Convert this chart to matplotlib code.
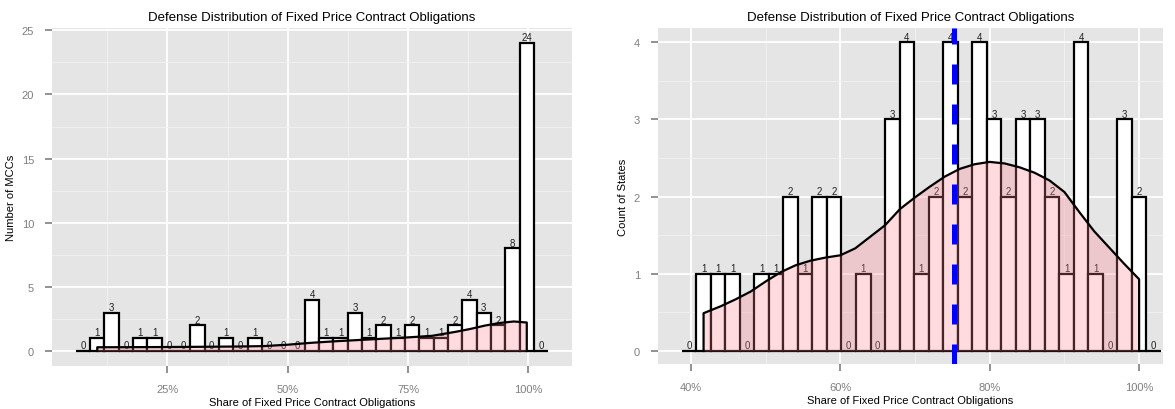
import numpy as np
import matplotlib
matplotlib.use("Agg")
import matplotlib.pyplot as plt
from matplotlib.ticker import FixedLocator, FuncFormatter

plt.rcParams['font.family'] = ['Liberation Sans', 'DejaVu Sans']

# Left chart: MCCs (bins run from min to max share, 30 steps, one empty bin padded each side)
mcc_lo, mcc_hi = 10.4, 99.7
mcc_counts = [0, 1, 3, 0, 1, 1, 0, 0, 2, 0, 1, 0, 1, 0, 0, 0, 4, 1, 1, 3,
              1, 2, 1, 2, 1, 1, 2, 4, 3, 2, 8, 24, 0]
mcc_dens_x = [10.4, 20, 30, 40, 45, 50, 55, 60, 65, 70, 75, 80, 85, 88, 91, 94, 97, 99.7]
mcc_dens_y = [0.29, 0.30, 0.32, 0.35, 0.38, 0.49, 0.64, 0.76, 0.86, 0.96, 1.06, 1.18,
              1.50, 1.72, 1.98, 2.18, 2.30, 2.22]

# Right chart: states
st_lo, st_hi = 41.7, 100.0
st_counts = [0, 1, 1, 1, 0, 1, 1, 2, 1, 2, 2, 0, 1, 0, 3, 4, 1, 2, 4, 2,
             4, 3, 2, 3, 3, 2, 1, 4, 1, 0, 3, 2, 0]
st_dens_x = [41.7, 44, 46, 48, 50, 52, 54, 56, 58, 60, 62, 64, 66, 68, 70, 72, 74, 76,
             78, 80, 82, 84, 86, 88, 90, 92, 94, 96, 98, 100]
st_dens_y = [0.49, 0.58, 0.67, 0.77, 0.90, 1.02, 1.11, 1.17, 1.21, 1.24, 1.33, 1.48,
             1.63, 1.84, 1.99, 2.13, 2.26, 2.36, 2.42, 2.45, 2.43, 2.38, 2.31, 2.21,
             2.06, 1.80, 1.55, 1.34, 1.13, 0.93]
st_mark = 75.2  # blue dashed reference line

title = "Defense Distribution of Fixed Price Contract Obligations"
xlabel = "Share of Fixed Price Contract Obligations"

fig = plt.figure(figsize=(11.75, 4.10), dpi=100)


def style_axes(ax, xmajor, xminor, ymajor, yminor, xlim, ylim):
    ax.set_facecolor('#E5E5E5')
    for s in ax.spines.values():
        s.set_visible(False)
    ax.set_xlim(*xlim)
    ax.set_ylim(*ylim)
    ax.xaxis.set_major_locator(FixedLocator(xmajor))
    ax.xaxis.set_minor_locator(FixedLocator(xminor))
    ax.yaxis.set_major_locator(FixedLocator(ymajor))
    ax.yaxis.set_minor_locator(FixedLocator(yminor))
    ax.xaxis.set_major_formatter(FuncFormatter(lambda v, p: "%d%%" % round(v)))
    ax.grid(which='major', color='white', lw=1.3)
    ax.grid(which='minor', color='#F2F2F2', lw=0.6)
    ax.set_axisbelow(True)
    ax.tick_params(which='major', length=5, width=1.2, color='#7F7F7F',
                   labelcolor='#7F7F7F', labelsize=8, pad=8)
    ax.tick_params(which='minor', length=0)
    ax.set_title(title, fontsize=9.5, pad=6)
    ax.set_xlabel(xlabel, fontsize=8, labelpad=2)


def draw_hist(ax, lo, hi, counts, dens_x, dens_y):
    bw = (hi - lo) / 30.0
    centers = lo + bw * (np.arange(len(counts)) - 1)
    ax.bar(centers, counts, width=bw, color='white', edgecolor='black',
           lw=1.6, zorder=2)
    for c, n in zip(centers, counts):
        ax.annotate(str(n), (c, n), xytext=(0, 0.5), textcoords='offset points',
                    ha='center', va='bottom', fontsize=7, color='#222222', zorder=3)
    # density overlay, semi-transparent so the bars show through
    ax.fill_between(dens_x, 0, dens_y, color='#FF7F8F', alpha=0.28, lw=0, zorder=4)
    ax.plot([dens_x[0]] + dens_x + [dens_x[-1]], [0] + dens_y + [0],
            color='black', lw=1.6, zorder=4)


# Left panel
ax1 = fig.add_axes([0.0443, 0.1049, 0.4425, 0.8244])
style_axes(ax1, [25, 50, 75, 100], [12.5, 37.5, 62.5, 87.5],
           [0, 5, 10, 15, 20, 25], [2.5, 7.5, 12.5, 17.5, 22.5],
           (1.0, 109.1), (-1.17, 25.18))
draw_hist(ax1, mcc_lo, mcc_hi, mcc_counts, mcc_dens_x, mcc_dens_y)
ax1.set_ylabel("Number of MCCs", fontsize=8, labelpad=4)

# Right panel
ax2 = fig.add_axes([0.5600, 0.1098, 0.4298, 0.8195])
style_axes(ax2, [40, 60, 80, 100], [50, 70, 90],
           [0, 1, 2, 3, 4], [0.5, 1.5, 2.5, 3.5],
           (35.6, 103.2), (-0.168, 4.185))
draw_hist(ax2, st_lo, st_hi, st_counts, st_dens_x, st_dens_y)
ax2.axvline(st_mark, color='#0000FF', lw=3.6, ls=(0, (4, 4)), zorder=5)
ax2.set_ylabel("Count of States", fontsize=8, labelpad=4)

fig.savefig("out.png", dpi=100)
